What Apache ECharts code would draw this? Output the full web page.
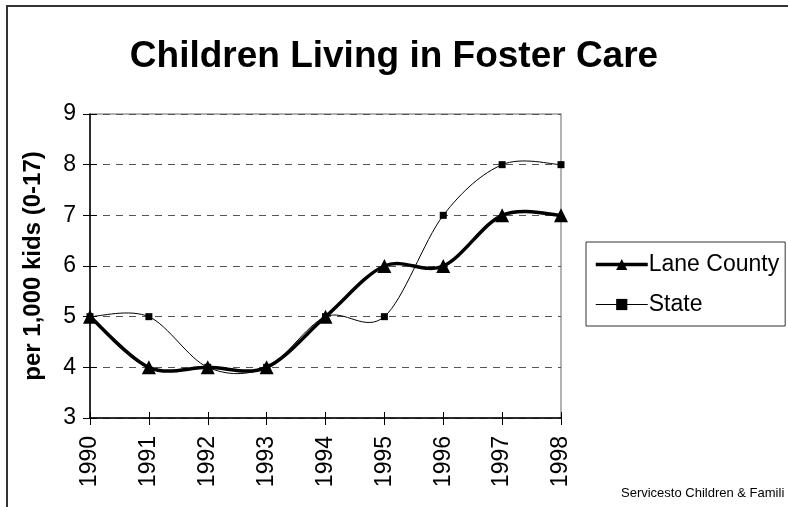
<!DOCTYPE html>
<html>
<head>
<meta charset="utf-8">
<script src="https://cdn.jsdelivr.net/npm/echarts@6/dist/echarts.min.js"></script>
<style>
  html, body { margin: 0; padding: 0; background: #fff; }
  #chart { width: 788px; height: 507px; }
</style>
</head>
<body>
<div id="chart"></div>
<script>
// 年份
const years = ['1990', '1991', '1992', '1993', '1994', '1995', '1996', '1997', '1998'];
// 每千名儿童 (0-17)
const laneCounty = [5, 4, 4, 4, 5, 6, 6, 7, 7];
const state = [5, 5, 4, 4, 5, 5, 7, 8, 8];
const yTicks = [3, 4, 5, 6, 7, 8, 9];

const chart = echarts.init(document.getElementById('chart'));
const font = 'Liberation Sans, Arial, sans-serif';

// Excel 风格平滑曲线：逐段三次贝塞尔（Catmull-Rom，系数 1/6）
function smoothRender(values, width) {
  return function (params, api) {
    const i = params.dataIndex;
    if (i >= values.length - 1) return null;
    const p = k => {
      const j = Math.max(0, Math.min(values.length - 1, k));
      return api.coord([j, values[j]]);
    };
    const p0 = p(i - 1), p1 = p(i), p2 = p(i + 1), p3 = p(i + 2);
    return {
      type: 'bezierCurve',
      shape: {
        x1: p1[0], y1: p1[1],
        x2: p2[0], y2: p2[1],
        cpx1: p1[0] + (p2[0] - p0[0]) / 6,
        cpy1: p1[1] + (p2[1] - p0[1]) / 6,
        cpx2: p2[0] - (p3[0] - p1[0]) / 6,
        cpy2: p2[1] - (p3[1] - p1[1]) / 6
      },
      style: { fill: 'none', stroke: '#000', lineWidth: width, lineCap: 'round', lineJoin: 'round' }
    };
  };
}

const option = {
  backgroundColor: '#fff',
  animation: false,
  title: {
    text: 'Children Living in Foster Care',
    left: 389,
    top: 33,
    textAlign: 'center',
    textStyle: { fontFamily: font, fontSize: 37, fontWeight: 'bold', color: '#000' }
  },
  grid: {
    left: 90, right: 227, top: 114, bottom: 89,
    show: true,
    borderColor: '#999',
    borderWidth: 1.5
  },
  legend: {
    orient: 'vertical',
    left: 586,
    top: 242,
    padding: [11, 6, 10, 8],
    itemGap: 17,
    itemWidth: 52,
    itemHeight: 14,
    borderColor: '#333',
    borderWidth: 1,
    textStyle: { fontFamily: font, fontSize: 23, color: '#000', padding: [0, 0, 0, -4] },
    data: [
      { name: 'Lane County', lineStyle: { color: '#000', width: 3.5, opacity: 1 }, itemStyle: { color: '#000', opacity: 1 } },
      { name: 'State', lineStyle: { color: '#000', width: 1, opacity: 1 }, itemStyle: { color: '#000', opacity: 1 } }
    ]
  },
  xAxis: [{
    type: 'category',
    data: years,
    boundaryGap: false,
    axisLine: { lineStyle: { color: '#000', width: 1.5 } },
    axisTick: { show: true, length: 7, lineStyle: { color: '#000' } },
    axisLabel: { rotate: 90, fontFamily: font, fontSize: 23, color: '#000', margin: 18 },
    splitLine: { show: false }
  }, {
    // 内侧刻度（交叉刻度效果）
    type: 'category',
    data: years,
    boundaryGap: false,
    position: 'bottom',
    axisLine: { show: false },
    axisTick: { show: true, inside: true, length: 6, lineStyle: { color: '#000' } },
    axisLabel: { show: false },
    splitLine: { show: false }
  }],
  yAxis: [{
    type: 'value',
    min: 3,
    max: 9,
    interval: 1,
    name: 'per 1,000 kids (0-17)',
    nameLocation: 'middle',
    nameGap: 45,
    nameRotate: 90,
    nameTextStyle: { fontFamily: font, fontSize: 24, fontWeight: 'bold', color: '#000' },
    axisLine: { show: true, lineStyle: { color: '#000', width: 1.5 } },
    axisTick: { show: true, length: 7, lineStyle: { color: '#000' } },
    axisLabel: {
      fontFamily: font, fontSize: 23, color: '#000', margin: 14,
      formatter: v => (yTicks.includes(v) ? String(v) : '')
    },
    splitLine: { show: true, lineStyle: { color: '#555', width: 1.2, type: [7, 6] } }
  }, {
    type: 'value',
    min: 3,
    max: 9,
    interval: 1,
    position: 'left',
    axisLine: { show: false },
    axisTick: { show: true, inside: true, length: 7, lineStyle: { color: '#000' } },
    axisLabel: { show: false },
    splitLine: { show: false }
  }],
  series: [
    {
      name: 'Lane County curve',
      type: 'custom',
      renderItem: smoothRender(laneCounty, 3.5),
      data: laneCounty.map((v, i) => [i, v]),
      z: 3
    },
    {
      name: 'State curve',
      type: 'custom',
      renderItem: smoothRender(state, 1),
      data: state.map((v, i) => [i, v]),
      z: 2
    },
    {
      name: 'Lane County',
      type: 'line',
      data: laneCounty,
      symbol: 'triangle',
      symbolSize: 14,
      lineStyle: { color: '#000', width: 0, opacity: 0 },
      itemStyle: { color: '#000' },
      z: 4
    },
    {
      name: 'State',
      type: 'line',
      data: state,
      symbol: 'rect',
      symbolSize: 7,
      lineStyle: { color: '#000', width: 0, opacity: 0 },
      itemStyle: { color: '#000' },
      z: 4
    }
  ],
  graphic: [
    {
      type: 'rect',
      shape: { x: 7, y: 6, width: 800, height: 520 },
      style: { fill: 'none', stroke: '#333', lineWidth: 2 },
      silent: true
    },
    {
      type: 'text',
      left: 621,
      top: 487,
      style: { text: 'Servicesto Children & Famili', fontFamily: font, fontSize: 13, fill: '#000' }
    }
  ]
};

chart.setOption(option);
</script>
</body>
</html>
